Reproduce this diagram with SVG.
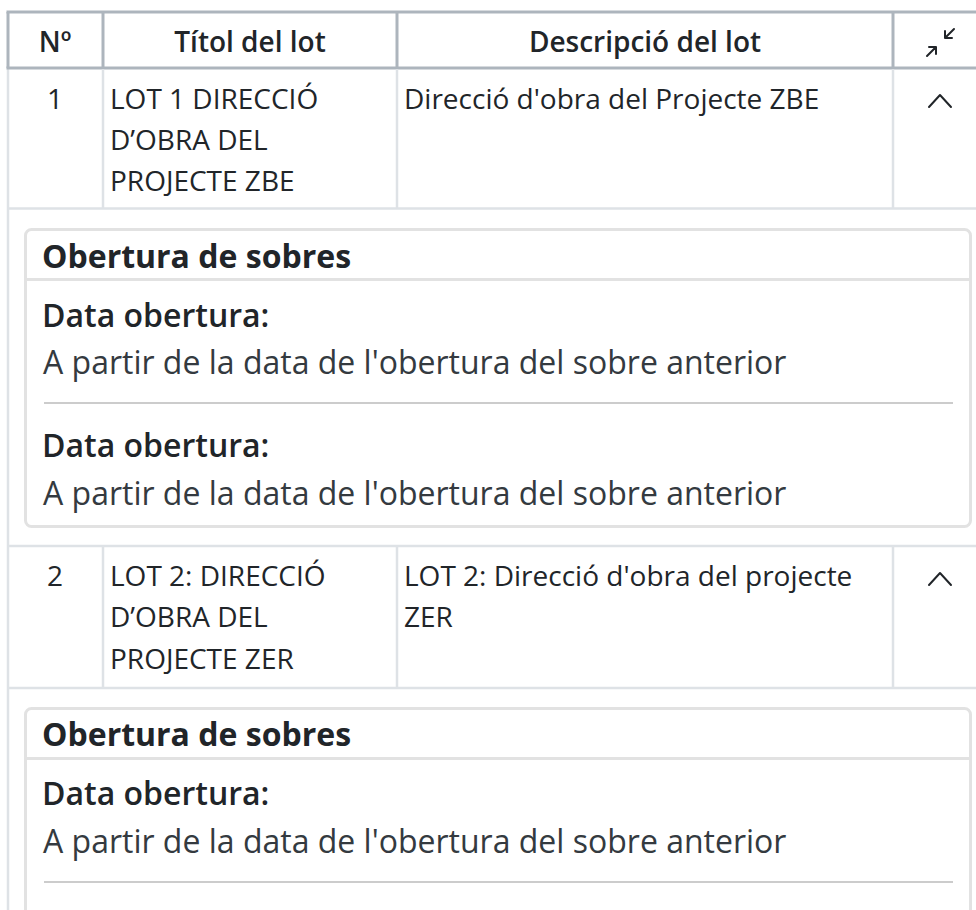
<svg xmlns="http://www.w3.org/2000/svg" width="976" height="910" viewBox="0 0 976 910">
<style>
  .th { font-family: "Open Sans", "Noto Sans", sans-serif; font-size: 28px; font-weight: 600; fill: #212529; }
  .td { font-family: "Open Sans", "Noto Sans", sans-serif; font-size: 28px; font-weight: 400; fill: #212529; }
  .ch { font-family: "Open Sans", "Noto Sans", sans-serif; font-size: 32px; font-weight: 700; fill: #212529; }
  .lbl { font-family: "Open Sans", "Noto Sans", sans-serif; font-size: 32px; font-weight: 600; fill: #212529; }
  .val { font-family: "Open Sans", "Noto Sans", sans-serif; font-size: 32px; font-weight: 400; fill: #343a40; }
  .hl { stroke: #adb5bd; stroke-width: 3; fill: none; }
  .bl { stroke: #dee2e6; stroke-width: 2.5; fill: none; }
  .card { fill: #ffffff; stroke: #e2e2e2; stroke-width: 3; }
  .cardline { stroke: #e2e2e2; stroke-width: 3; }
  .sep { stroke: #cccccc; stroke-width: 2; }
  .icon { stroke: #212529; stroke-width: 2; fill: none; stroke-linecap: round; stroke-linejoin: round; }
</style>
<rect x="0" y="0" width="976" height="910" fill="#ffffff"/>

<g id="table-frame">
  <line class="bl" x1="8" y1="68" x2="8" y2="910"/>
</g>

<g id="header">
  <line class="hl" x1="6.5" y1="12" x2="976" y2="12"/>
  <line class="hl" x1="8" y1="12" x2="8" y2="68"/>
  <line class="hl" x1="103" y1="12" x2="103" y2="68"/>
  <line class="hl" x1="397" y1="12" x2="397" y2="68"/>
  <line class="hl" x1="893" y1="12" x2="893" y2="68"/>
  <line class="hl" x1="6.5" y1="68" x2="976" y2="68"/>
  <text class="th" x="55" y="51.5" text-anchor="middle">Nº</text>
  <text class="th" x="250" y="51.5" text-anchor="middle">Títol del lot</text>
  <text class="th" x="645" y="51.5" text-anchor="middle">Descripció del lot</text>
  <path class="icon" d="M954 29 L945 38 M945 31 L945 38 L952 38"/>
  <path class="icon" d="M927 56 L936 47 M929 47 L936 47 L936 54"/>
</g>

<g id="row1">
  <line class="bl" x1="103" y1="69" x2="103" y2="208"/>
  <line class="bl" x1="397" y1="69" x2="397" y2="208"/>
  <line class="bl" x1="893" y1="69" x2="893" y2="208"/>
  <line class="bl" x1="7" y1="208.5" x2="976" y2="208.5"/>
  <text class="td" x="55" y="108.5" text-anchor="middle">1</text>
  <text class="td" x="110" y="108.5">LOT 1 DIRECCIÓ</text>
  <text class="td" x="110" y="150">D’OBRA DEL</text>
  <text class="td" x="110" y="191">PROJECTE ZBE</text>
  <text class="td" x="404" y="108.5">Direcció d'obra del Projecte ZBE</text>
  <path class="icon" d="M929 107 L940 95 L951 107"/>
</g>

<g id="card1">
  <rect class="card" x="25.5" y="229.5" width="945" height="297" rx="6" ry="6"/>
  <line class="cardline" x1="25" y1="279.5" x2="971" y2="279.5"/>
  <text class="ch" x="42" y="268">Obertura de sobres</text>
  <text class="lbl" x="42" y="327">Data obertura:</text>
  <text class="val" x="43" y="374">A partir de la data de l'obertura del sobre anterior</text>
  <line class="sep" x1="44" y1="403" x2="953" y2="403"/>
  <text class="lbl" x="42" y="457">Data obertura:</text>
  <text class="val" x="43" y="505">A partir de la data de l'obertura del sobre anterior</text>
</g>

<g id="row2">
  <line class="bl" x1="7" y1="546" x2="976" y2="546"/>
  <line class="bl" x1="103" y1="546" x2="103" y2="688"/>
  <line class="bl" x1="397" y1="546" x2="397" y2="688"/>
  <line class="bl" x1="893" y1="546" x2="893" y2="688"/>
  <line class="bl" x1="7" y1="688" x2="976" y2="688"/>
  <text class="td" x="55" y="586" text-anchor="middle">2</text>
  <text class="td" x="110" y="586">LOT 2: DIRECCIÓ</text>
  <text class="td" x="110" y="627">D’OBRA DEL</text>
  <text class="td" x="110" y="669">PROJECTE ZER</text>
  <text class="td" x="404" y="586">LOT 2: Direcció d'obra del projecte</text>
  <text class="td" x="404" y="627">ZER</text>
  <path class="icon" d="M929 585 L940 573 L951 585"/>
</g>

<g id="card2">
  <rect class="card" x="25.5" y="708.5" width="945" height="300" rx="6" ry="6"/>
  <line class="cardline" x1="25" y1="758.5" x2="971" y2="758.5"/>
  <text class="ch" x="42" y="746">Obertura de sobres</text>
  <text class="lbl" x="42" y="805">Data obertura:</text>
  <text class="val" x="43" y="853">A partir de la data de l'obertura del sobre anterior</text>
  <line class="sep" x1="44" y1="882" x2="953" y2="882"/>
</g>
</svg>
